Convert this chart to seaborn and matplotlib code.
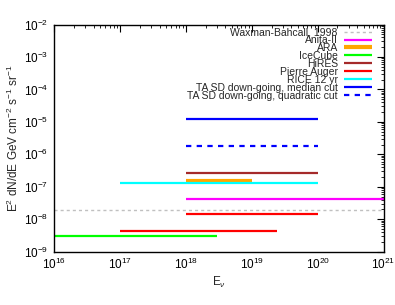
import matplotlib
matplotlib.use("Agg")
import matplotlib.pyplot as plt
import matplotlib.ticker as mticker
import seaborn as sns
import pandas as pd

# ---- data ----
labels = ["Waxman-Bahcall, 1998", "Anita-II", "ARA", "IceCube", "HiRES",
          "Pierre Auger", "Pierre Auger", "RICE 12 yr",
          "TA SD down-going, median cut", "TA SD down-going, quadratic cut"]
e_low = [1e16, 1e18, 1e18, 1e16, 1e18, 1e18, 1e17, 1e17, 1e18, 1e18]
e_high = [1e21, 1e21, 1e19, 3e18, 1e20, 1e20, 2.4e19, 1e20, 1e20, 1e20]
flux = [1.95e-8, 4.1e-8, 1.5e-7, 3.0e-9, 2.6e-7, 1.4e-8, 4.4e-9, 1.3e-7, 1.2e-5, 1.85e-6]

colors = ["#c0c0c0", "#ff00ff", "#ffa500", "#00ff00", "#a52a2a",
          "#ff0000", "#ff0000", "#00ffff", "#0000ff", "#0000ff"]
widths = [1.0, 1.6, 3.0, 1.6, 1.6, 1.6, 1.6, 1.6, 1.6, 1.6]
dashes = [(2.2, 2.2), None, None, None, None, None, None, None, None, (2.4, 2.4)]

sns.set_theme(style="white")
plt.rcParams["font.family"] = ["Liberation Sans", "DejaVu Sans"]
plt.rcParams["mathtext.fontset"] = "custom"
plt.rcParams["mathtext.rm"] = "Liberation Sans"
plt.rcParams["mathtext.it"] = "Liberation Sans:italic"
plt.rcParams["mathtext.bf"] = "Liberation Sans:bold"

fig = plt.figure(figsize=(3.95, 3.05), dpi=100)
ax = fig.add_axes([54 / 395, 1 - 251.7 / 305, (383.5 - 54) / 395, (251.7 - 24.5) / 305])

seen = set()
for i, lab in enumerate(labels):
    df = pd.DataFrame({"E": [e_low[i], e_high[i]], "F": [flux[i], flux[i]]})
    kw = dict(color=colors[i], linewidth=widths[i])
    if lab in seen:
        kw["label"] = "_nolegend_"
    else:
        kw["label"] = lab
        seen.add(lab)
    sns.lineplot(data=df, x="E", y="F", ax=ax, estimator=None, sort=False, **kw)
    l = ax.get_lines()[-1]
    if dashes[i] is not None:
        l.set_dashes(dashes[i])
    l.set_solid_capstyle("butt")
    l.set_dash_capstyle("butt")

ax.set_xscale("log")
ax.set_yscale("log")
ax.set_xlim(1e16, 1e21)
ax.set_ylim(1e-9, 1e-2)
ax.xaxis.set_major_locator(mticker.LogLocator(base=10, numticks=20))
ax.yaxis.set_major_locator(mticker.LogLocator(base=10, numticks=20))
ax.xaxis.set_minor_locator(mticker.LogLocator(base=10, subs=range(2, 10), numticks=100))
ax.yaxis.set_minor_locator(mticker.LogLocator(base=10, subs=range(2, 10), numticks=100))
ax.yaxis.set_minor_formatter(mticker.NullFormatter())
ax.xaxis.set_minor_formatter(mticker.NullFormatter())
ax.tick_params(which="both", direction="in", top=True, right=True, colors="black",
               labelsize=8.5, pad=4)
ax.tick_params(which="major", length=5, width=0.8)
ax.tick_params(which="minor", length=2.5, width=0.6)
for s in ax.spines.values():
    s.set_color("black")
    s.set_linewidth(1.0)

ax.set_xlabel(r"E$_\nu$", fontsize=8.5, labelpad=1.5)
ax.set_ylabel(r"E$^2$ dN/dE GeV cm$^{-2}$ s$^{-1}$ sr$^{-1}$", fontsize=8.5, labelpad=2)

leg = ax.legend(loc="upper right", markerfirst=False, frameon=False, fontsize=7.5,
                handlelength=2.7, handletextpad=0.6, labelspacing=-0.2,
                borderaxespad=0.3, borderpad=0.4,
                bbox_to_anchor=(1 - 4 / 329.5, 1 + 4.5 / 227.2))
try:
    leg._legend_box._children[-1]._children[0].align = "right"
except Exception:
    pass

fig.savefig("out.png", dpi=100)
